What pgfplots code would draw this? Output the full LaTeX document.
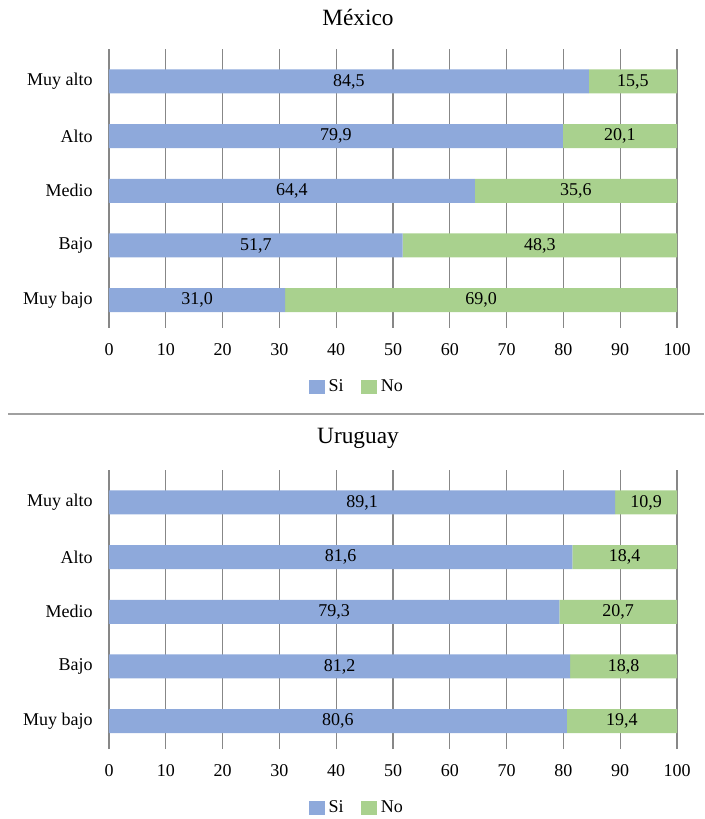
\documentclass[border=0pt]{standalone}
\usepackage{fontspec}
\setmainfont{Liberation Serif}
\usepackage{pgfplots}
\pgfplotsset{compat=1.18}
\definecolor{siblue}{HTML}{8EA9DB}
\definecolor{nogreen}{HTML}{A9D18E}
\definecolor{gridgray}{HTML}{878787}
\definecolor{sepgray}{HTML}{A0A0A0}
\newcommand{\bodyfont}{\fontsize{13.5}{15.5}\selectfont}
\newcommand{\titlefont}{\fontsize{17.5}{20}\selectfont}
\pgfplotsset{
  panelbase/.style={
    scale only axis, width=426pt, height=209.5pt,
    xmin=0, xmax=100, ymin=-0.51, ymax=4.6,
  },
  panel/.style={
    panelbase,
    xbar stacked, bar width=18pt,
    axis line style={draw=none},
    xmajorgrids, major grid style={gridgray, line width=1pt},
    major tick length=0pt,
    xtick={0,10,...,100},
    ytick={0,1,2,3,4},
    yticklabels={Muy bajo,Bajo,Medio,Alto,Muy alto},
    /pgf/number format/assume math mode=true,
    tick label style={font=\bodyfont},
    xticklabel style={anchor=center, inner sep=0pt, yshift=-16.5pt},
    yticklabel style={anchor=east, inner sep=0pt, xshift=-12pt},
    legend columns=2,
    legend style={draw=none, fill=none, font=\bodyfont, inner sep=0pt,
      at={(axis description cs:0.438,-0.211)}, anchor=center,
      nodes={inner sep=3pt},
      /tikz/every even column/.append style={column sep=10pt}},
  },
  labels/.style={
    panelbase, hide axis,
    nodes near coords, point meta=explicit symbolic,
    nodes near coords style={anchor=center, font=\bodyfont, inner sep=0pt},
  },
}
\begin{document}
\begin{tikzpicture}
\path (0pt,0pt) rectangle (528pt,614.25pt);
% ---------------- México ----------------
\node[font=\titlefont] at (268.5pt,600.75pt) {México};
\begin{axis}[panel, at={(81.75pt,368.25pt)}, anchor=south west]
\addplot[fill=siblue, draw=none,
  legend image code/.code={\fill[siblue] (0pt,-5.25pt) rectangle (12pt,5.25pt);}]
  coordinates {(31.0,0) (51.7,1) (64.4,2) (79.9,3) (84.5,4)};
\addplot[fill=nogreen, draw=none,
  legend image code/.code={\fill[nogreen] (0pt,-5.25pt) rectangle (12pt,5.25pt);}]
  coordinates {(69.0,0) (48.3,1) (35.6,2) (20.1,3) (15.5,4)};
\legend{Si,No}
\end{axis}
\begin{axis}[labels, at={(81.75pt,368.25pt)}, anchor=south west]
\addplot[only marks, mark=*, mark size=0pt, mark options={draw=none,fill=none}]
  table[meta=label] {
x y label
15.50 0 31,0
25.85 1 51,7
32.20 2 64,4
39.95 3 79,9
42.25 4 84,5
65.50 0 69,0
75.85 1 48,3
82.20 2 35,6
89.95 3 20,1
92.25 4 15,5
};
\end{axis}
% separator
\draw[sepgray, line width=1.1pt] (6pt,303.75pt) -- (528pt,303.75pt);
% ---------------- Uruguay ----------------
\node[font=\titlefont] at (268.5pt,285.75pt) {Uruguay};
\begin{axis}[panel, at={(81.75pt,52.5pt)}, anchor=south west]
\addplot[fill=siblue, draw=none,
  legend image code/.code={\fill[siblue] (0pt,-5.25pt) rectangle (12pt,5.25pt);}]
  coordinates {(80.6,0) (81.2,1) (79.3,2) (81.6,3) (89.1,4)};
\addplot[fill=nogreen, draw=none,
  legend image code/.code={\fill[nogreen] (0pt,-5.25pt) rectangle (12pt,5.25pt);}]
  coordinates {(19.4,0) (18.8,1) (20.7,2) (18.4,3) (10.9,4)};
\legend{Si,No}
\end{axis}
\begin{axis}[labels, at={(81.75pt,52.5pt)}, anchor=south west]
\addplot[only marks, mark=*, mark size=0pt, mark options={draw=none,fill=none}]
  table[meta=label] {
x y label
40.30 0 80,6
40.60 1 81,2
39.65 2 79,3
40.80 3 81,6
44.55 4 89,1
90.30 0 19,4
90.60 1 18,8
89.65 2 20,7
90.80 3 18,4
94.55 4 10,9
};
\end{axis}
\end{tikzpicture}
\end{document}
